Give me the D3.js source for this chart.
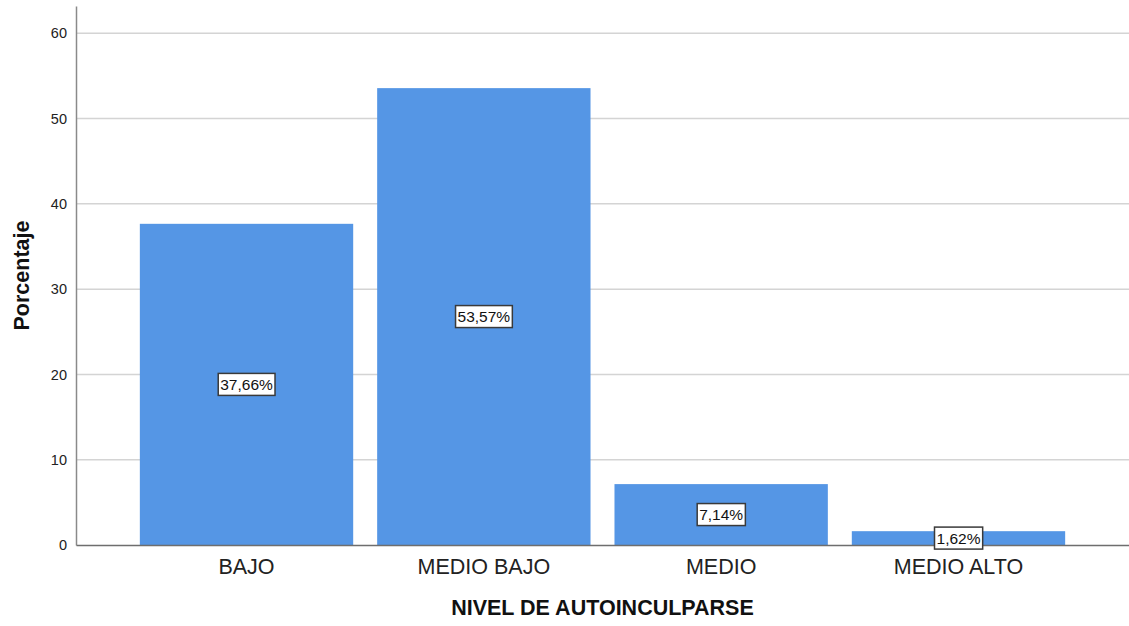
<!DOCTYPE html>
<html>
<head>
<meta charset="utf-8">
<script src="https://cdn.jsdelivr.net/npm/d3@7"></script>
<style>
html,body{margin:0;padding:0;background:#fff;}
svg{display:block;font-family:"Liberation Sans",Arial,sans-serif;}
</style>
</head>
<body>
<svg id="chart" width="1129" height="626"></svg>
<script>
const categories = ["BAJO", "MEDIO BAJO", "MEDIO", "MEDIO ALTO"];
const values = [37.66, 53.57, 7.14, 1.62];
const labels = ["37,66%", "53,57%", "7,14%", "1,62%"];
const yTicks = [0, 10, 20, 30, 40, 50, 60];
const xTitle = "NIVEL DE AUTOINCULPARSE";
const yTitle = "Porcentaje";

const W = 1129, H = 626;
const m = {left: 76, right: 0, top: 6, bottom: 81};
const svg = d3.select("#chart");

const x = d3.scaleBand().domain(categories)
  .range([m.left, W - m.right]).paddingInner(0.101).paddingOuter(0.269);
const y = d3.scaleLinear().domain([0, 63.2]).range([H - m.bottom, m.top]);

// gridlines
svg.append("g").selectAll("line").data(yTicks.filter(d => d > 0)).join("line")
  .attr("x1", m.left).attr("x2", W - m.right)
  .attr("y1", d => y(d)).attr("y2", d => y(d))
  .attr("stroke", "#d4d4d4").attr("stroke-width", 1.5);

// bars
svg.append("g").selectAll("rect").data(values).join("rect")
  .attr("x", (d, i) => x(categories[i]))
  .attr("width", x.bandwidth())
  .attr("y", d => y(d))
  .attr("height", d => y(0) - y(d))
  .attr("fill", "#5596e5");

// y axis
const yAxis = d3.axisLeft(y).tickValues(yTicks).tickSize(0).tickPadding(9);
const gy = svg.append("g").attr("transform", `translate(${m.left},0)`).call(yAxis);
gy.select(".domain").attr("stroke", "#8a8a8a").attr("stroke-width", 1.5);
gy.selectAll("text").attr("font-size", 14.5).attr("fill", "#222")
  .attr("font-family", "'Liberation Sans',Arial,sans-serif");

// x axis
const xAxis = d3.axisBottom(x).tickSize(0).tickPadding(14);
const gx = svg.append("g").attr("transform", `translate(0,${y(0)})`).call(xAxis);
gx.select(".domain").attr("stroke", "#6e6e6e").attr("stroke-width", 1.5);
gx.selectAll("text").attr("font-size", 21.5).attr("fill", "#222")
  .attr("font-family", "'Liberation Sans',Arial,sans-serif");

// value labels
const lg = svg.append("g").selectAll("g").data(values).join("g")
  .attr("transform", (d, i) => `translate(${x(categories[i]) + x.bandwidth() / 2},${y(d / 2)})`);
lg.append("text")
  .attr("text-anchor", "middle").attr("dy", "0.36em")
  .attr("font-size", 15.5).attr("fill", "#111")
  .text((d, i) => labels[i]);
lg.each(function() {
  const g = d3.select(this);
  const bb = g.select("text").node().getBBox();
  g.insert("rect", "text")
    .attr("x", bb.x - 2).attr("y", -11)
    .attr("width", bb.width + 4).attr("height", 22)
    .attr("fill", "#fff").attr("stroke", "#3a3a3a").attr("stroke-width", 1.5);
});

// titles
svg.append("text")
  .attr("x", (m.left + W - m.right) / 2).attr("y", 615)
  .attr("text-anchor", "middle").attr("font-size", 21.5).attr("font-weight", "bold")
  .attr("fill", "#111").text(xTitle);
svg.append("text")
  .attr("transform", `translate(29,${(y(0) + m.top) / 2}) rotate(-90)`)
  .attr("text-anchor", "middle").attr("font-size", 21.5).attr("font-weight", "bold")
  .attr("fill", "#111").text(yTitle);
</script>
</body>
</html>
